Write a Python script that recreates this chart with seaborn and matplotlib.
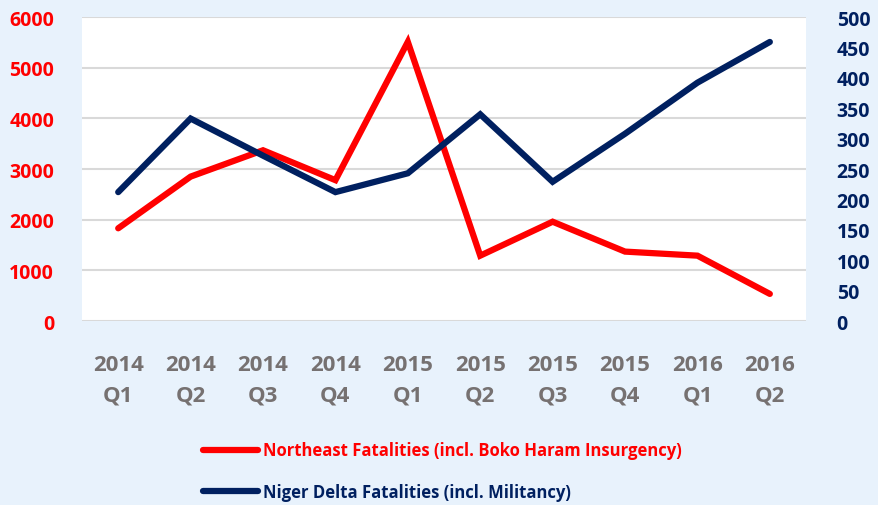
import matplotlib
matplotlib.use("Agg")
import matplotlib.pyplot as plt
import seaborn as sns
import pandas as pd
from matplotlib.lines import Line2D

# data
quarters = ["2014\nQ1", "2014\nQ2", "2014\nQ3", "2014\nQ4", "2015\nQ1",
            "2015\nQ2", "2015\nQ3", "2015\nQ4", "2016\nQ1", "2016\nQ2"]
northeast = [1830, 2850, 3370, 2780, 5510, 1290, 1960, 1370, 1290, 535]
niger_delta = [212, 333, 272, 212, 243, 340, 229, 308, 392, 459]
left_ticks = [0, 1000, 2000, 3000, 4000, 5000, 6000]
right_ticks = [0, 50, 100, 150, 200, 250, 300, 350, 400, 450, 500]

RED = "#FF0000"
NAVY = "#002060"
GREY = "#767171"
BG = "#E8F2FC"

sns.set_theme(style="white")
plt.rcParams['font.family'] = ['Open Sans', 'DejaVu Sans']
plt.rcParams['font.weight'] = 'bold'

df = pd.DataFrame({"q": quarters, "ne": northeast, "nd": niger_delta})
df["x"] = range(len(df))

fig = plt.figure(figsize=(8.79, 5.06), dpi=100, facecolor=BG)
ax = fig.add_axes([0.0933, 0.3636, 0.8237, 0.6008])
ax.set_facecolor("white")
ax2 = ax.twinx()

sns.lineplot(data=df, x="x", y="ne", ax=ax, color=RED, lw=4.5,
             solid_capstyle="round", solid_joinstyle="miter")
sns.lineplot(data=df, x="x", y="nd", ax=ax2, color=NAVY, lw=4.5,
             solid_capstyle="round", solid_joinstyle="miter")

ax.set_xlim(-0.5, len(quarters) - 0.5)
ax.set_ylim(0, 6000)
ax2.set_ylim(0, 500)
ax.set_yticks(left_ticks)
ax2.set_yticks(right_ticks)
ax.set_xticks(df["x"])
ax.set_xticklabels(quarters, color=GREY, fontsize=16, fontweight='bold',
                   linespacing=1.55)
ax.set_yticklabels([str(v) for v in left_ticks], color=RED, fontsize=14,
                   fontweight='bold')
ax2.set_yticklabels([str(v) for v in right_ticks], color=NAVY, fontsize=14,
                    fontweight='bold')
ax.tick_params(axis='x', length=0, pad=24)
ax.tick_params(axis='y', length=0, pad=20)
ax2.tick_params(axis='y', length=0, pad=22)

ax.grid(axis='y', color="#D9D9D9", lw=1.5)
ax.set_axisbelow(True)
for a in (ax, ax2):
    for s in a.spines.values():
        s.set_visible(False)
    a.set_xlabel("")
    a.set_ylabel("")

handles = [Line2D([], [], color=RED, lw=4.5, solid_capstyle="round"),
           Line2D([], [], color=NAVY, lw=4.5, solid_capstyle="round")]
labels = ["Northeast Fatalities (incl. Boko Haram Insurgency)",
          "Niger Delta Fatalities (incl. Militancy)"]
leg = fig.legend(handles, labels, loc="upper left", bbox_to_anchor=(0.222, 0.142),
                 frameon=False, fontsize=12, handlelength=3.3, handletextpad=0.3,
                 labelspacing=1.4, borderpad=0)
for t, c in zip(leg.get_texts(), [RED, NAVY]):
    t.set_color(c)
    t.set_fontweight('bold')

fig.savefig("out.png", dpi=100, facecolor=BG)
